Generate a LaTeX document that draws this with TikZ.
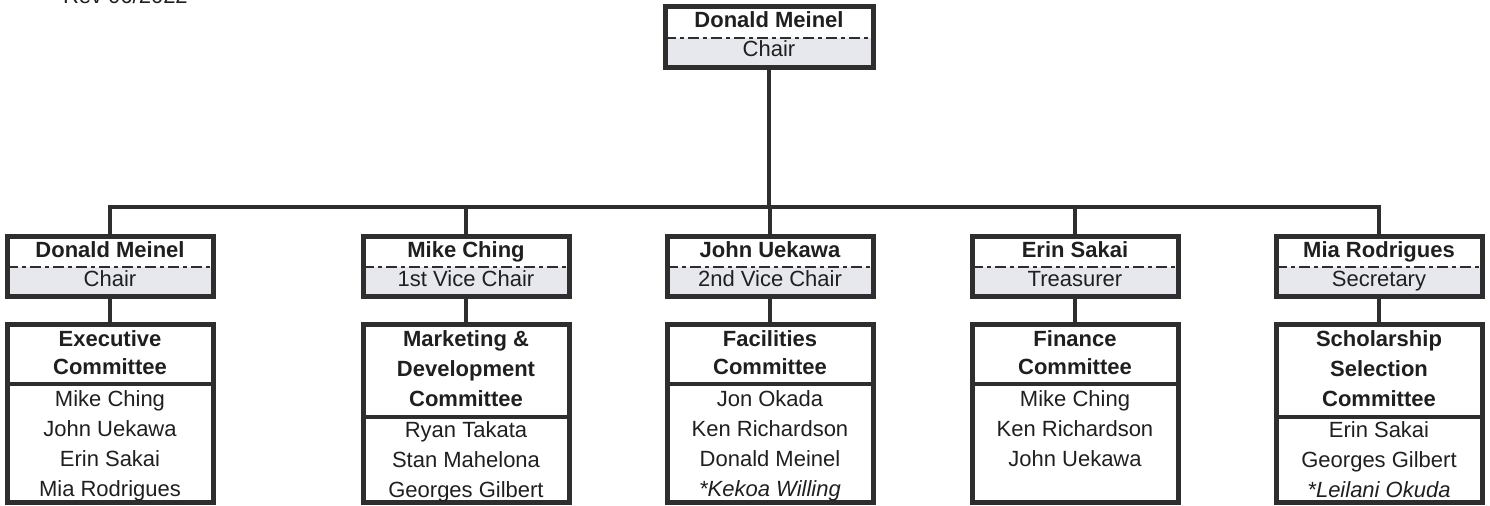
\documentclass[tikz,border=0pt]{standalone}
\usepackage{fontspec}
\setmainfont{Liberation Sans}
\definecolor{linec}{HTML}{2E2E2E}
\definecolor{rolefill}{HTML}{E6E8ED}
\begin{document}
\begin{tikzpicture}[x=0.5pt,y=-0.5pt,
  every node/.style={font=\fontsize{11}{15}\selectfont, inner sep=0pt, outer sep=0pt, text=black!88},
  boxline/.style={draw=linec, line width=2.5pt},
  conn/.style={draw=linec, line width=2pt},
  dashdot/.style={draw=linec, line width=1pt, dash pattern=on 5.5pt off 2pt on 2pt off 2pt},
  rolebox/.style={boxline, rectangle, minimum width=103pt, minimum height=30pt},
  combox/.style={boxline, rectangle, minimum width=103pt, minimum height=89pt},
  txt/.style={anchor=base},
  btxt/.style={anchor=base, font=\fontsize{11}{15}\selectfont\bfseries},
  itxt/.style={anchor=base, font=\fontsize{11}{15}\selectfont\itshape}
]
\useasboundingbox (0,0) rectangle (1490,506);
\clip (0,0) rectangle (1490,506);

\node[anchor=base west] (rev) at (63,4) {Rev 06/2022};

% top box
\fill[rolefill] (665,38) rectangle (873,68);
\draw[dashdot] (665,38) -- (873,38);
\node[boxline, rectangle, minimum width=104pt, minimum height=30.5pt] (top) at (769,37.5) {};
\node[btxt] (topn) at (769,28) {Donald Meinel};
\node[txt] (topr) at (769,57) {Chair};

% bus coordinates
\coordinate (b1) at (110,207);
\coordinate (b2) at (466,207);
\coordinate (b3) at (770,207);
\coordinate (b4) at (1075,207);
\coordinate (b5) at (1379,207);
\draw[conn] (top.south) -- (top.south |- b1);
\draw[conn] ([xshift=-1pt]b1) -- ([xshift=1pt]b5);

% role boxes
\foreach \i/\cx/\nm/\rl in {1/110/Donald Meinel/Chair, 2/466/Mike Ching/1st Vice Chair, 3/770/John Uekawa/2nd Vice Chair, 4/1075/Erin Sakai/Treasurer, 5/1379/Mia Rodrigues/Secretary}{
  \fill[rolefill] (\cx-103,267) rectangle (\cx+103,297);
  \draw[dashdot] (\cx-103,267) -- (\cx+103,267);
  \node[rolebox] (r\i) at (\cx,267) {};
  \node[btxt] (rn\i) at (\cx,258) {\nm};
  \node[txt] (rr\i) at (\cx,287) {\rl};
  \node[combox] (c\i) at (\cx,414) {};
  \draw[conn] (b\i) -- (r\i.north);
  \draw[conn] (r\i.south) -- (c\i.north);
}

% committee dividers
\draw[conn] (c1.west |- 0,384) -- (c1.east |- 0,384);
\draw[conn] (c2.west |- 0,417) -- (c2.east |- 0,417);
\draw[conn] (c3.west |- 0,384) -- (c3.east |- 0,384);
\draw[conn] (c4.west |- 0,384) -- (c4.east |- 0,384);
\draw[conn] (c5.west |- 0,417) -- (c5.east |- 0,417);

% Executive
\node[btxt] (t1a) at (110,347) {Executive};
\node[btxt] (t1b) at (110,375) {Committee};
\node[txt] (m1a) at (110,407) {Mike Ching};
\node[txt] (m1b) at (110,437) {John Uekawa};
\node[txt] (m1c) at (110,467) {Erin Sakai};
\node[txt] (m1d) at (110,497) {Mia Rodrigues};

% Marketing
\node[btxt] (t2a) at (466,347) {Marketing \&};
\node[btxt] (t2b) at (466,377) {Development};
\node[btxt] (t2c) at (466,407) {Committee};
\node[txt] (m2a) at (466,438) {Ryan Takata};
\node[txt] (m2b) at (466,468) {Stan Mahelona};
\node[txt] (m2c) at (466,498) {Georges Gilbert};

% Facilities
\node[btxt] (t3a) at (770,347) {Facilities};
\node[btxt] (t3b) at (770,375) {Committee};
\node[txt] (m3a) at (770,407) {Jon Okada};
\node[txt] (m3b) at (770,437) {Ken Richardson};
\node[txt] (m3c) at (770,467) {Donald Meinel};
\node[itxt] (m3d) at (770,497) {*Kekoa Willing};

% Finance
\node[btxt] (t4a) at (1075,347) {Finance};
\node[btxt] (t4b) at (1075,375) {Committee};
\node[txt] (m4a) at (1075,407) {Mike Ching};
\node[txt] (m4b) at (1075,437) {Ken Richardson};
\node[txt] (m4c) at (1075,467) {John Uekawa};

% Scholarship
\node[btxt] (t5a) at (1379,347) {Scholarship};
\node[btxt] (t5b) at (1379,377) {Selection};
\node[btxt] (t5c) at (1379,407) {Committee};
\node[txt] (m5a) at (1379,438) {Erin Sakai};
\node[txt] (m5b) at (1379,468) {Georges Gilbert};
\node[itxt] (m5c) at (1379,498) {*Leilani Okuda};
\end{tikzpicture}
\end{document}
